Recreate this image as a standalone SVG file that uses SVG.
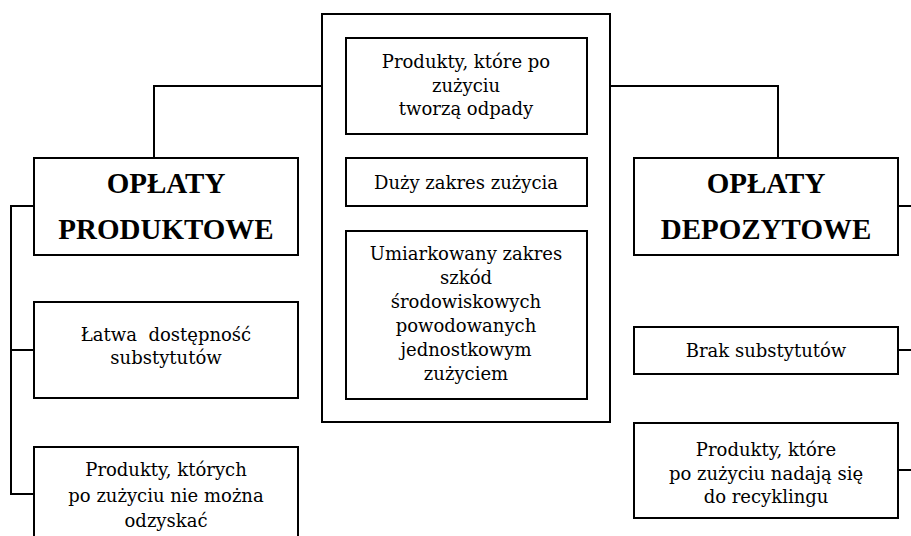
<svg xmlns="http://www.w3.org/2000/svg" width="911" height="536" viewBox="0 0 911 536">
<style>
.box{fill:#fff;stroke:#000;stroke-width:2}
.con{fill:none;stroke:#000;stroke-width:2}
.h{font-family:"Liberation Serif",serif;font-weight:bold;font-size:29px;text-anchor:middle;fill:#000}
.t{font-family:"DejaVu Serif",serif;font-size:18px;text-anchor:middle;fill:#000;white-space:pre}
</style>
<rect width="911" height="536" fill="#fff"/>
<g id="connectors">
<polyline class="con" points="154,158 154,86 322,86"/>
<polyline class="con" points="610,86 778,86 778,158"/>
<polyline class="con" points="34,206 11,206 11,494 34,494"/>
<line class="con" x1="11" y1="350" x2="34" y2="350"/>
<line class="con" x1="898" y1="206" x2="911" y2="206"/>
<line class="con" x1="898" y1="350" x2="911" y2="350"/>
<line class="con" x1="898" y1="470" x2="911" y2="470"/>
</g>
<g id="center">
<rect class="box" x="322" y="14" width="288" height="408"/>
</g>
<g id="c1">
<rect class="box" x="346" y="38" width="241" height="96"/>
<text class="t" x="466" y="68">Produkty, które po</text>
<text class="t" x="466" y="92">zużyciu</text>
<text class="t" x="466" y="115">tworzą odpady</text>
</g>
<g id="c2">
<rect class="box" x="346" y="158" width="241" height="48"/>
<text class="t" x="466" y="189">Duży zakres zużycia</text>
</g>
<g id="c3">
<rect class="box" x="346" y="231" width="241" height="168"/>
<text class="t" x="466" y="260">Umiarkowany zakres</text>
<text class="t" x="466" y="284">szkód</text>
<text class="t" x="466" y="308">środowiskowych</text>
<text class="t" x="466" y="332">powodowanych</text>
<text class="t" x="466" y="356">jednostkowym</text>
<text class="t" x="466" y="380">zużyciem</text>
</g>
<g id="produktowe">
<rect class="box" x="34" y="158" width="264" height="97"/>
<text class="h" x="166" y="193">OPŁATY</text>
<text class="h" x="166" y="239">PRODUKTOWE</text>
</g>
<g id="l1">
<rect class="box" x="34" y="302" width="264" height="96"/>
<text class="t" x="166" y="341">Łatwa  dostępność</text>
<text class="t" x="166" y="364">substytutów</text>
</g>
<g id="l2">
<rect class="box" x="34" y="447" width="264" height="96"/>
<text class="t" x="166" y="476">Produkty, których</text>
<text class="t" x="166" y="502">po zużyciu nie można</text>
<text class="t" x="166" y="527">odzyskać</text>
</g>
<g id="depozytowe">
<rect class="box" x="634" y="158" width="264" height="97"/>
<text class="h" x="766" y="193">OPŁATY</text>
<text class="h" x="766" y="239">DEPOZYTOWE</text>
</g>
<g id="r1">
<rect class="box" x="634" y="327" width="264" height="47"/>
<text class="t" x="766" y="357">Brak substytutów</text>
</g>
<g id="r2">
<rect class="box" x="634" y="423" width="264" height="95"/>
<text class="t" x="766" y="456">Produkty, które</text>
<text class="t" x="766" y="480">po zużyciu nadają się</text>
<text class="t" x="766" y="503">do recyklingu</text>
</g>
</svg>
